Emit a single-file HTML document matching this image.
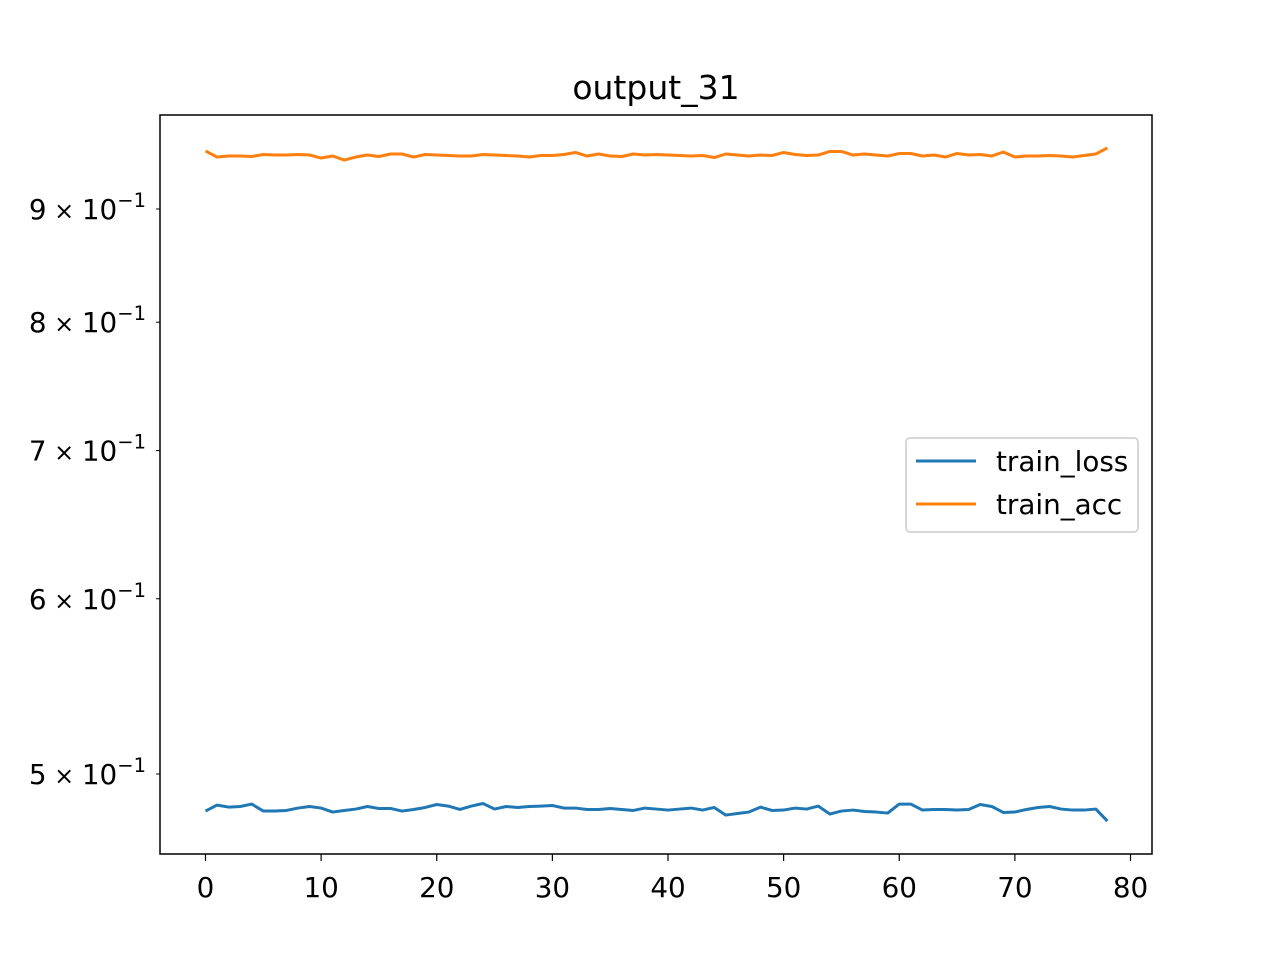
<!DOCTYPE html>
<html><head><meta charset="utf-8"><style>
html,body{margin:0;padding:0;background:#fff;}
svg text{font-family:"DejaVu Sans","Liberation Sans",sans-serif;fill:#000;}
</style></head><body>
<svg id="chart" width="1280" height="960" xmlns="http://www.w3.org/2000/svg">
<rect width="1280" height="960" fill="#fff"/>
<text x="656" y="99" font-size="33" text-anchor="middle">output_31</text>
<g id="ticks"></g>
<g id="lines"></g>
<rect x="160" y="115" width="992" height="739" fill="none" stroke="#000" stroke-width="1.5"/>
<g>
<rect x="906" y="438" width="232" height="94" rx="4" fill="#fff" stroke="#ccc" stroke-width="1.5"/>
<line x1="916" y1="461" x2="976" y2="461" stroke="#1f77b4" stroke-width="3"/>
<text x="996" y="471" font-size="27.8">train_loss</text>
<line x1="916" y1="504" x2="976" y2="504" stroke="#ff7f0e" stroke-width="3"/>
<text x="996" y="514" font-size="27.8">train_acc</text>
</g>
</svg>
<script>
const epochs = Array.from({length:79},(_,i)=>i);
const trainAcc = [0.956,0.950,0.951,0.951,0.9505,0.9525,0.952,0.952,0.9525,0.952,0.949,0.951,0.947,0.950,0.952,0.9505,0.953,0.953,0.950,0.9525,0.952,0.9515,0.951,0.951,0.9525,0.952,0.9515,0.951,0.950,0.9515,0.9515,0.9525,0.9545,0.951,0.953,0.951,0.9505,0.953,0.952,0.9525,0.952,0.9515,0.951,0.9515,0.9495,0.953,0.952,0.951,0.952,0.9515,0.9545,0.9525,0.9515,0.952,0.9555,0.9555,0.952,0.953,0.952,0.951,0.9535,0.9535,0.951,0.952,0.950,0.9535,0.952,0.9525,0.951,0.955,0.950,0.951,0.951,0.9515,0.951,0.950,0.9515,0.953,0.959];
const trainLoss = [0.4811,0.4841,0.4831,0.4834,0.4846,0.4811,0.4811,0.4814,0.4826,0.4834,0.4826,0.4806,0.4814,0.4821,0.4834,0.4824,0.4824,0.4811,0.4819,0.4829,0.4844,0.4836,0.4819,0.4836,0.4849,0.4821,0.4834,0.4829,0.4834,0.4836,0.4839,0.4826,0.4826,0.4819,0.4819,0.4824,0.4819,0.4814,0.4826,0.4821,0.4816,0.4821,0.4826,0.4816,0.4829,0.4791,0.4799,0.4806,0.4831,0.4814,0.4816,0.4826,0.4821,0.4836,0.4796,0.4811,0.4816,0.4809,0.4806,0.4801,0.4846,0.4846,0.4816,0.4819,0.4819,0.4816,0.4819,0.4844,0.4834,0.4804,0.4806,0.4819,0.4829,0.4834,0.4821,0.4816,0.4816,0.4821,0.4761];
const xTicks = [0,10,20,30,40,50,60,70,80];
const yTicks = [0.5,0.6,0.7,0.8,0.9];
const yTickMant = ["5","6","7","8","9"];
const NS="http://www.w3.org/2000/svg";
const x = v => 205.5 + v*11.5625;
const y = v => 209 - (Math.log10(v) - Math.log10(0.9))*2213.4;
const tk = document.getElementById('ticks'), ln = document.getElementById('lines');
function mk(t,a,p){const e=document.createElementNS(NS,t);for(const k in a)e.setAttribute(k,a[k]);p.appendChild(e);return e;}
xTicks.forEach(v=>{
  const l=mk('line',{x1:x(v),x2:x(v),y1:854,y2:861,stroke:'#000','stroke-width':1.2},tk);
  
  
  const t=mk('text',{x:x(v),y:897,'font-size':27.8,'text-anchor':'middle'},tk);
  t.textContent=v;
  
  
});
yTicks.forEach((v,i)=>{
  const l=mk('line',{x1:156,x2:160,y1:y(v),y2:y(v),stroke:'#000','stroke-width':1},tk);
  
  
  const t=mk('text',{x:146,y:y(v)+10,'font-size':27.8,'text-anchor':'end'},tk);
  
  
  t.innerHTML=yTickMant[i]+'<tspan font-size="24"> × </tspan>10<tspan dy="-12" font-size="19.5">−1</tspan>';
});
function line(data,color,name){
  const d=data.map((v,i)=>(i?'L':'M')+x(epochs[i]).toFixed(2)+' '+y(v).toFixed(2)).join(' ');
  const p=mk('path',{d:d,fill:'none',stroke:color,'stroke-width':3,'stroke-linejoin':'round'},ln);
  
  
}
line(trainLoss,'#1f77b4','train-loss-line');
line(trainAcc,'#ff7f0e','train-acc-line');
</script>
</body></html>
